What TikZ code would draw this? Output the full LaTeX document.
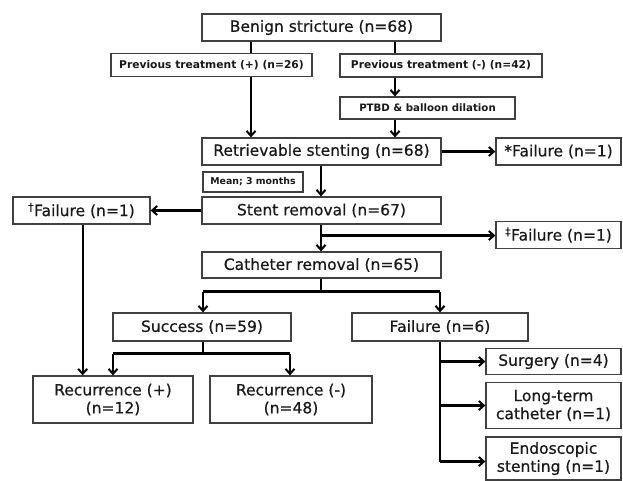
\documentclass[tikz,border=0pt]{standalone}
\usepackage{fontspec}
\setmainfont{DejaVu Sans}
\newfontfamily\heavyfont{DejaVu Sans}[FakeBold=0.5]
\usetikzlibrary{arrows.meta}
\begin{document}
\begin{tikzpicture}[x=1pt,y=-1pt,
  box/.style={draw=black!75,line width=1.3pt,fill=white,inner sep=0pt,align=center,
    font=\heavyfont\fontsize{15.5}{18}\selectfont,text=black!90},
  sbox/.style={box,font=\bfseries\fontsize{10.7}{12}\selectfont},
  arr/.style={line width=2.2pt,-{Straight Barb[length=5pt,width=9pt,line width=2pt]}},
  ln/.style={line width=2.2pt}]
\useasboundingbox (0,0) rectangle (623,480);
% nodes
\node[box,minimum width=239pt,minimum height=27pt] (benign) at (321.5,27.5) {Benign stricture (n=68)};
\node[sbox,minimum width=201pt,minimum height=23pt] (prevp) at (211.5,65) {Previous treatment (+) (n=26)};
\node[sbox,minimum width=202pt,minimum height=23pt] (prevm) at (441,65.5) {Previous treatment (-) (n=42)};
\node[sbox,minimum width=175pt,minimum height=22pt,font=\bfseries\fontsize{10.2}{12}\selectfont] (ptbd) at (427.5,108) {PTBD \& balloon dilation};
\node[box,minimum width=239pt,minimum height=27pt] (retr) at (321.5,151.5) {Retrievable stenting (n=68)};
\node[box,minimum width=125pt,minimum height=27pt] (failA) at (558.5,151.5) {*Failure (n=1)};
\node[sbox,minimum width=100pt,minimum height=20pt,font=\bfseries\fontsize{9.4}{10}\selectfont] (mean) at (253,182) {Mean; 3 months};
\node[box,minimum width=239pt,minimum height=27pt] (stent) at (321.5,210.5) {Stent removal (n=67)};
\node[box,minimum width=137pt,minimum height=27pt] (failB) at (81.5,210.5) {\textsuperscript{\dag}Failure (n=1)};
\node[box,minimum width=125pt,minimum height=27pt] (failC) at (558.5,235) {\textsuperscript{\ddag}Failure (n=1)};
\node[box,minimum width=239pt,minimum height=26pt] (cath) at (321.5,265) {Catheter removal (n=65)};
\node[box,minimum width=178pt,minimum height=28pt] (succ) at (202,327) {Success (n=59)};
\node[box,minimum width=176pt,minimum height=28pt] (fail6) at (440,327) {Failure (n=6)};
\node[box,minimum width=160pt,minimum height=47pt] (recp) at (113,399.5) {Recurrence (+)\\(n=12)};
\node[box,minimum width=162pt,minimum height=47pt] (recm) at (291,399.5) {Recurrence (-)\\(n=48)};
\node[box,minimum width=135pt,minimum height=26pt] (surg) at (553.5,361.5) {Surgery (n=4)};
\node[box,minimum width=135pt,minimum height=46pt] (ltc) at (553.5,405.5) {Long-term\\catheter (n=1)};
\node[box,minimum width=135pt,minimum height=43pt] (endo) at (553.5,458.5) {Endoscopic\\stenting (n=1)};
% helper coordinates
\coordinate (xL) at (251,0);
\coordinate (xR) at (395,0);
\coordinate (xM) at (321,0);
\coordinate (xS) at (203,0);
\coordinate (xF) at (440,0);
\coordinate (xP) at (82.7,0);
\coordinate (xRp) at (113,0);
\coordinate (xRm) at (290,0);
\coordinate (yB1) at (0,235.5);
\coordinate (yB2) at (0,291.5);
\coordinate (yB3) at (0,353.5);
\coordinate (yE) at (0,461.5);
% connectors
\draw[ln] (benign.south -| xL) -- (prevp.north -| xL);
\draw[ln] (benign.south -| xR) -- (prevm.north -| xR);
\draw[arr] (prevp.south -| xL) -- (retr.north -| xL);
\draw[arr] (prevm.south -| xR) -- (ptbd.north -| xR);
\draw[arr] (ptbd.south -| xR) -- (retr.north -| xR);
\draw[arr] (retr.east) -- (failA.west);
\draw[arr] (retr.south -| xM) -- (stent.north -| xM);
\draw[arr] (stent.west) -- (failB.east);
\draw[arr] (stent.south -| xM) -- (cath.north -| xM);
\draw[arr] (yB1 -| xM) -- (yB1 -| failC.west);
\draw[ln] (cath.south -| xM) -- (yB2 -| xM);
\draw[arr] (yB2 -| xS) -- (succ.north -| xS);
\draw[arr] (yB2 -| xF) -- (fail6.north -| xF);
\draw[ln] (yB2 -| xS) -- (yB2 -| xF);
\draw[arr] (failB.south -| xP) -- (recp.north -| xP);
\draw[ln] (succ.south -| xS) -- (yB3 -| xS);
\draw[ln] (yB3 -| xRp) -- (yB3 -| xRm);
\draw[arr] (yB3 -| xRp) -- (recp.north -| xRp);
\draw[arr] (yB3 -| xRm) -- (recm.north -| xRm);
\draw[ln] (fail6.south -| xF) -- (yE -| xF);
\draw[arr] (surg.west -| xF) -- (surg.west);
\draw[arr] (ltc.west -| xF) -- (ltc.west);
\draw[arr] (yE -| xF) -- (yE -| endo.west);
\end{tikzpicture}
\end{document}
